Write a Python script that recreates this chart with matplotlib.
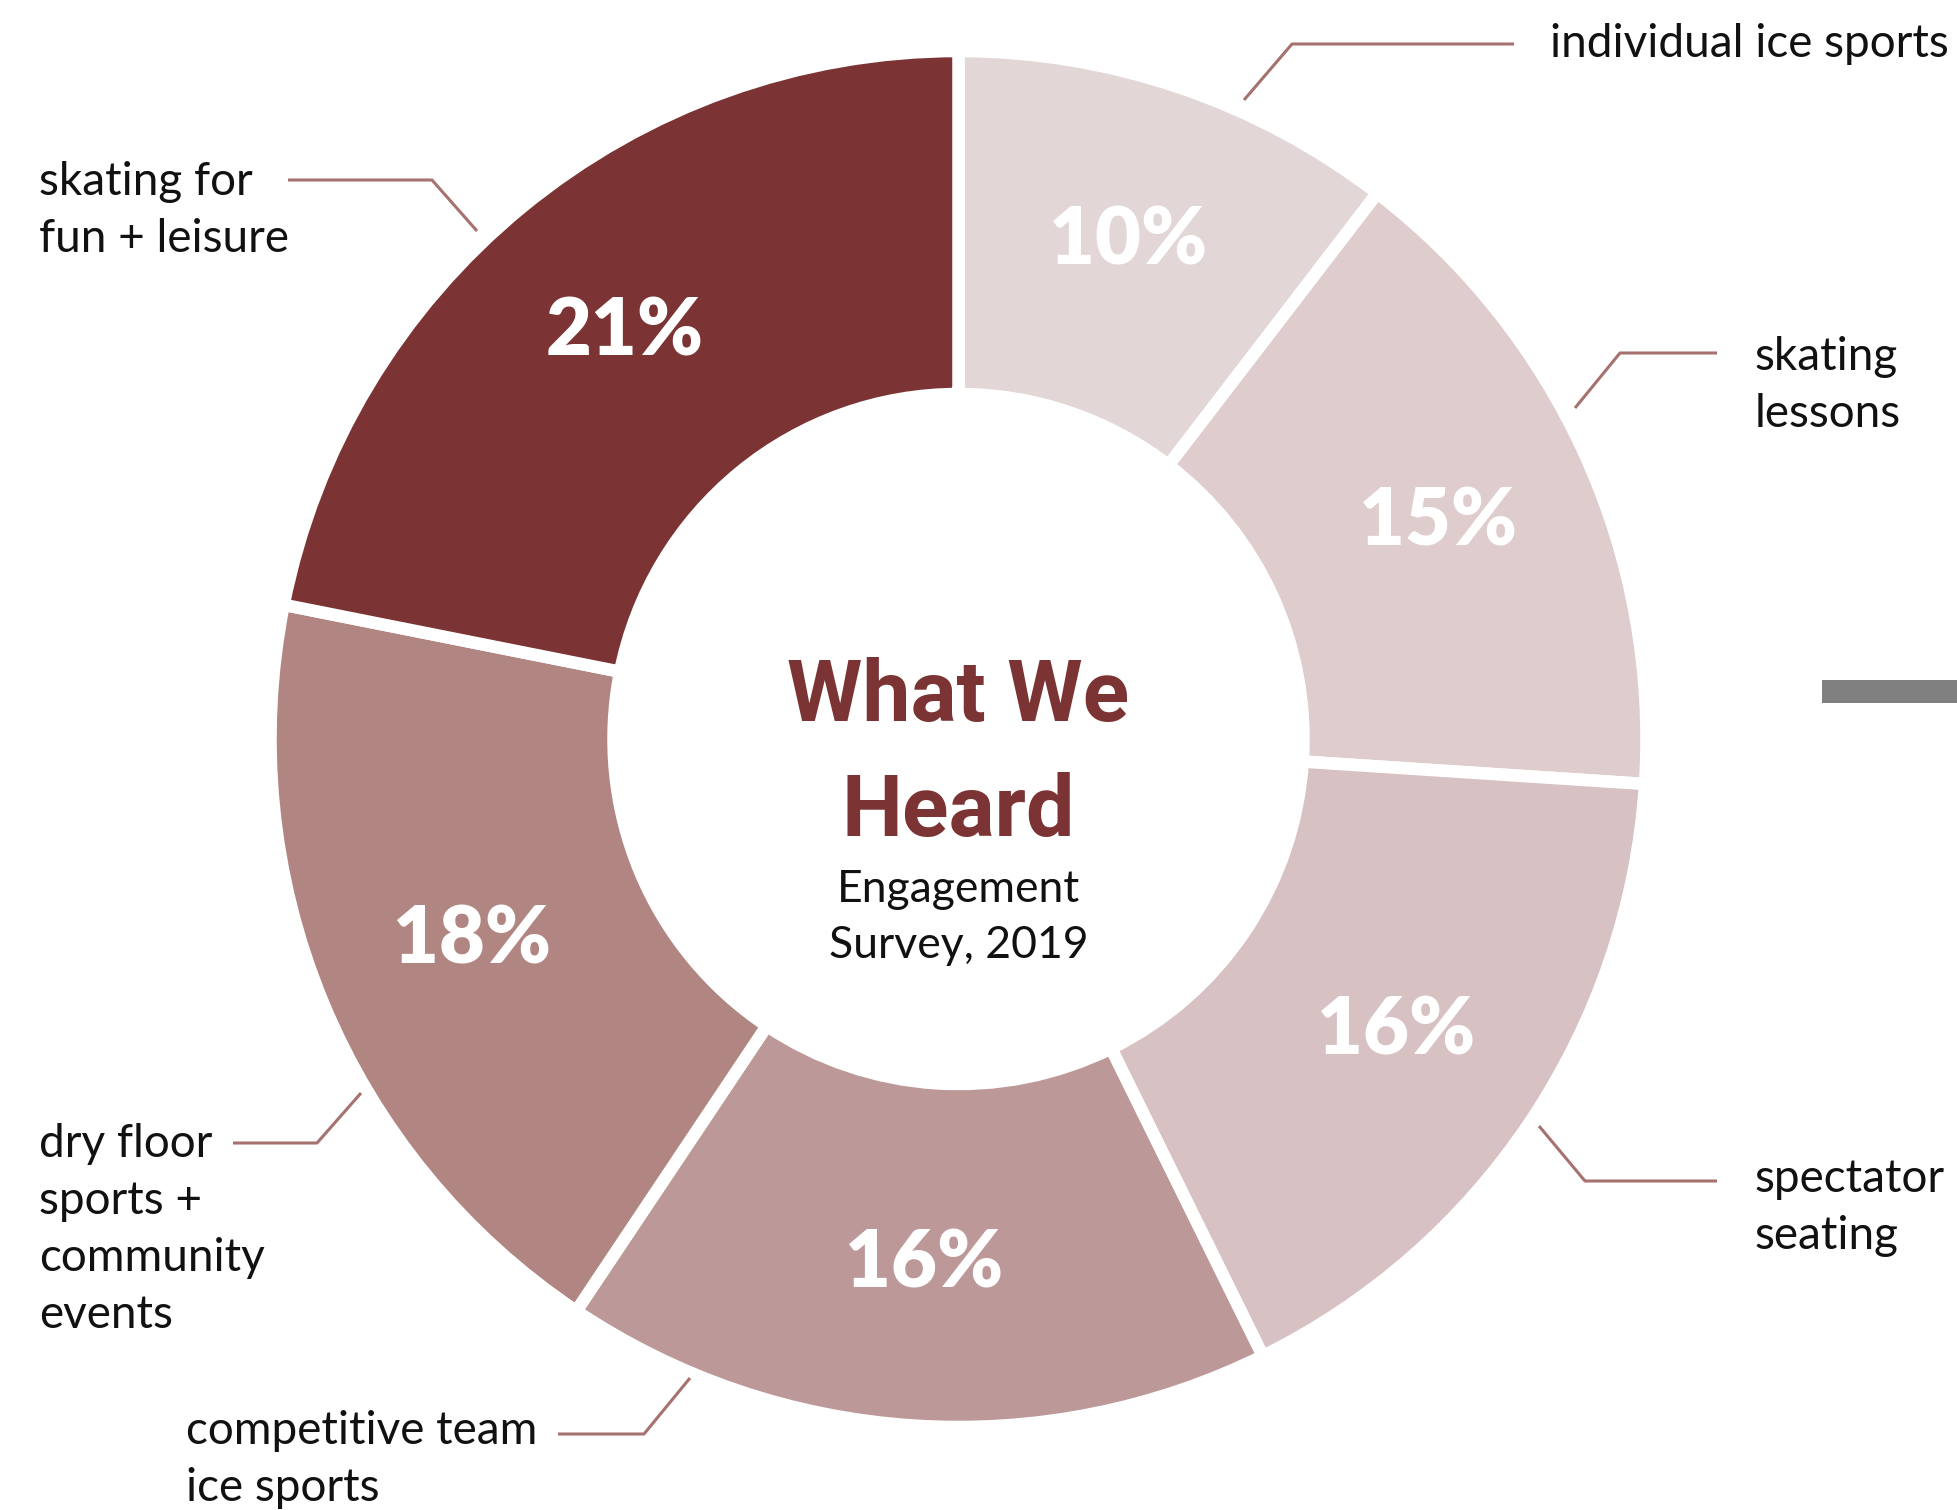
import matplotlib.pyplot as plt
from matplotlib.patches import Rectangle
import numpy as np

# data
categories = ["individual ice sports", "skating\nlessons", "spectator\nseating",
              "competitive team\nice sports", "dry floor\nsports +\ncommunity\nevents",
              "skating for\nfun + leisure"]
values = [10, 15, 16, 16, 18, 21]
colors = ["#E3D6D7", "#DFCCCC", "#D7C1C2", "#BD9898", "#B18682", "#7B3333"]

# layout (pixel coords, y measured from top)
W, H = 1957, 1510
cx, cy = 958.5, 739
label_xy = [(1550, 57), (1755, 370), (1755, 1192), (186, 1444), (39, 1157), (39, 195)]
leader_pts = [
    [(1244, 100), (1292, 44), (1514, 44)],
    [(1575, 408), (1620, 353), (1717, 353)],
    [(1539, 1126), (1585, 1181), (1717, 1181)],
    [(690, 1378), (644, 1434), (558, 1434)],
    [(361, 1093), (317, 1143), (233, 1143)],
    [(477, 231), (432, 180), (288, 180)],
]
line_step = 57


def Y(y):
    return H - y


fig = plt.figure(figsize=(W / 100, H / 100), dpi=100)
ax = fig.add_axes([0, 0, 1, 1])

wedges, _ = ax.pie(values, colors=colors, startangle=90, counterclock=False,
                   radius=688, center=(cx, Y(cy)),
                   wedgeprops=dict(width=343, edgecolor="white", linewidth=9))
ax.set_xlim(0, W)
ax.set_ylim(0, H)
ax.set_aspect("equal")
ax.axis("off")

# percentages inside the ring
for w, v in zip(wedges, values):
    ang = np.deg2rad((w.theta1 + w.theta2) / 2)
    r = 0.765 * 688
    ax.text(cx + r * np.cos(ang), Y(cy) + r * np.sin(ang), f"{v}%",
            color="white", fontsize=57, fontfamily="Lato", fontweight="heavy",
            ha="center", va="center")

# centre title
ax.text(cx, Y(721), "What We", ha="center", va="baseline", color="#7B3333",
        fontsize=62, fontweight="bold", family=["Liberation Sans Narrow", "Roboto"])
ax.text(cx, Y(836), "Heard", ha="center", va="baseline", color="#7B3333",
        fontsize=62, fontweight="bold", family=["Liberation Sans Narrow", "Roboto"])
ax.text(cx, Y(902), "Engagement", ha="center", va="baseline", color="#111111",
        fontsize=32, fontfamily="Lato")
ax.text(cx, Y(958), "Survey, 2019", ha="center", va="baseline", color="#111111",
        fontsize=32, fontfamily="Lato")

# outer labels + leader lines
for lab, (tx, ty), pts in zip(categories, label_xy, leader_pts):
    for i, line in enumerate(lab.split("\n")):
        ax.text(tx, Y(ty + i * line_step), line, ha="left", va="baseline",
                color="#111111", fontsize=33, fontfamily="Lato")
    xs = [p[0] for p in pts]
    ys = [Y(p[1]) for p in pts]
    ax.plot(xs, ys, color="#A57270", lw=2.2, solid_capstyle="butt")

# grey tab at right edge
ax.add_patch(Rectangle((1822, Y(703)), W - 1822, 23, color="#808080", lw=0))

fig.savefig("out.png", dpi=100)
